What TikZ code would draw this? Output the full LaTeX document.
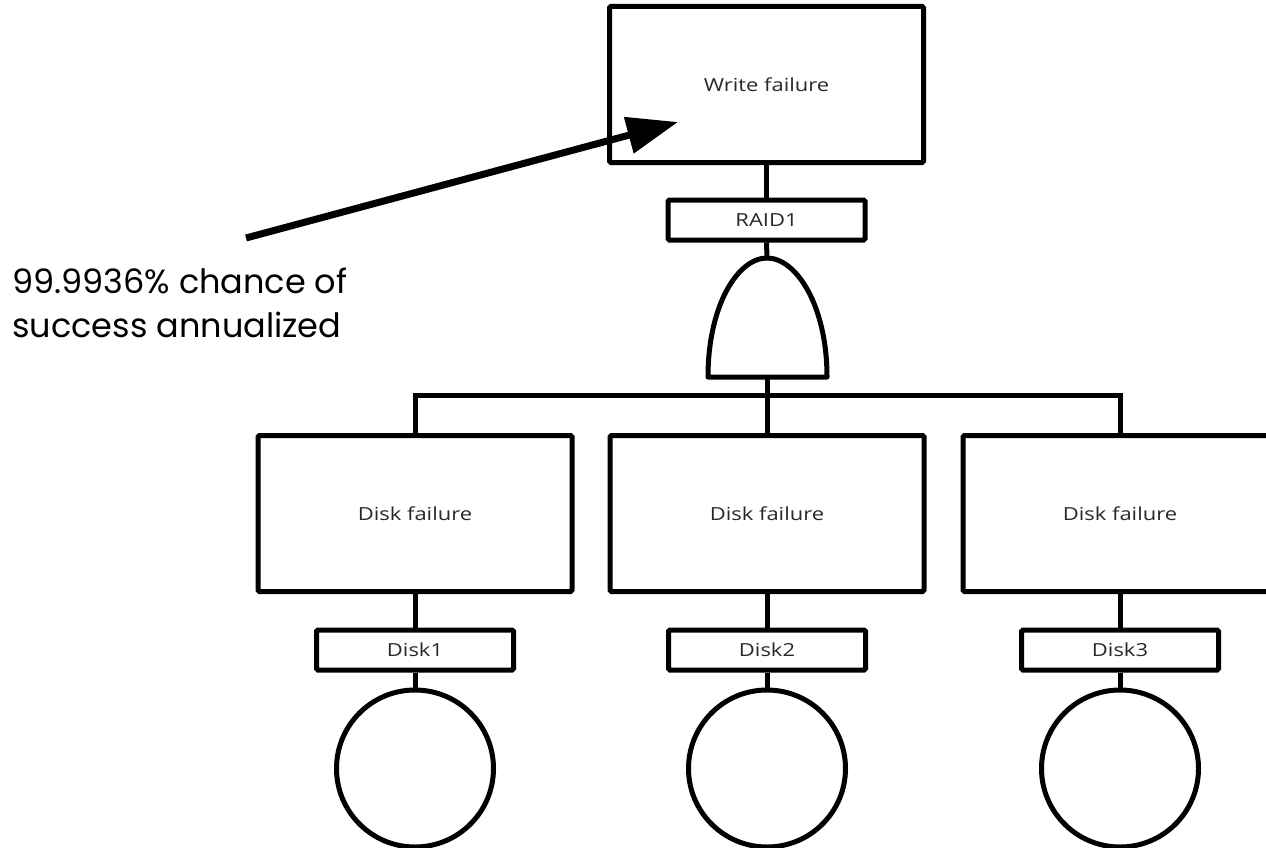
\documentclass[tikz,border=0pt]{standalone}
\usepackage{fontspec}
\setmainfont[FakeStretch=1.22]{Open Sans}
\newfontfamily\notefont{Poppins}
\usetikzlibrary{arrows.meta}

\definecolor{ink}{RGB}{0,0,0}
\definecolor{labelgray}{RGB}{40,40,40}

\tikzset{
  event/.style={draw=ink, line width=5pt, rounded corners=1.5pt, fill=white,
    minimum width=314pt, minimum height=156pt, inner sep=0pt,
    font=\fontsize{18}{22}\selectfont, text=labelgray},
  tag/.style={draw=ink, line width=5pt, rounded corners=1.5pt, fill=white,
    minimum width=197pt, minimum height=40pt, inner sep=0pt,
    font=\fontsize{18}{22}\selectfont, text=labelgray},
  basic/.style={draw=ink, line width=5pt, circle, minimum size=157pt, inner sep=0pt},
  wire/.style={draw=ink, line width=5pt},
  gatestyle/.style={draw=ink, line width=5pt, line join=round, fill=white},
  pointer/.style={draw=ink, line width=7pt, -{Triangle[length=51pt,width=36pt]}},
}

\begin{document}
\begin{tikzpicture}[x=1pt, y=-1pt]
  \useasboundingbox (0,0) rectangle (1266,848);
  \clip (0,0) rectangle (1266,848);

  % top event and its gate
  \node[event] (top) at (766.5,84.5) {Write failure};
  \node[tag] (raid) at (766.5,220) {RAID1};
  \coordinate (gtop) at (767,258);
  \coordinate (gbot) at (767,377);
  \coordinate (bus) at (767,395);

  % basic events
  \foreach \i/\x in {1/415,2/767,3/1120}{
    \node[event] (d\i) at (\x,513.5) {Disk failure};
    \node[tag] (t\i) at (\x,650) {Disk\i};
    \node[basic] (c\i) at (\x,768.5) {};
  }

  % connectors
  \draw[wire] (top.south) -- (raid.north);
  \draw[wire] (raid.south) -- (gtop);
  \draw[wire] (gbot) -- (d2.north);
  \draw[wire] (d1.north) |- (bus) -| (d3.north);
  \foreach \i in {1,2,3}{
    \draw[wire] (d\i.south) -- (t\i.north);
    \draw[wire] (t\i.south) -- (c\i.north);
  }

  % AND gate
  \draw[gatestyle] (708,377) .. controls (708,305) and (738,258) .. (gtop)
    .. controls (796,258) and (827,305) .. (827,377) -- cycle;

  % annotation (base anchor sits on the last line)
  \node[anchor=base west, align=left, inner sep=0pt,
    font=\notefont\fontsize{33.5}{44}\selectfont] (note) at (12,337)
    {99.9936\% chance of\\success annualized};
  \coordinate (tail) at (246,238);
  \coordinate (tip) at (678,122);
  \draw[pointer] (tail) -- (tip);
\end{tikzpicture}
\end{document}
